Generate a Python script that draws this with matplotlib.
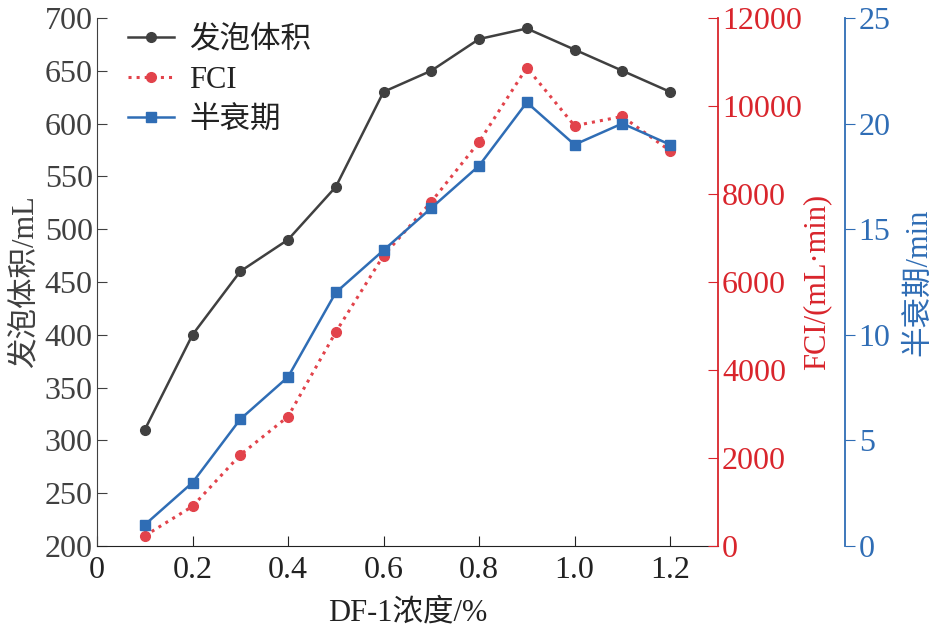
import matplotlib
matplotlib.use('Agg')
import matplotlib.pyplot as plt

plt.rcParams['font.family'] = ['Liberation Serif', 'Noto Sans CJK SC']
plt.rcParams['axes.unicode_minus'] = False

conc = [0.1, 0.2, 0.3, 0.4, 0.5, 0.6, 0.7, 0.8, 0.9, 1.0, 1.1, 1.2]
foam_vol = [310, 400, 460, 490, 540, 630, 650, 680, 690, 670, 650, 630]
fci = [230, 900, 2070, 2940, 4860, 6600, 7820, 9180, 10870, 9550, 9760, 8980]
half_life = [1, 3, 6, 8, 12, 14, 16, 18, 21, 19, 20, 19]
xticks = [0, 0.2, 0.4, 0.6, 0.8, 1.0, 1.2]
xtick_labels = ['0', '0.2', '0.4', '0.6', '0.8', '1.0', '1.2']

gray = '#404040'
red = '#d9252c'
red_pt = '#e2434b'
blue = '#2f6db5'
fs = 23
lfs = 22

fig = plt.figure(figsize=(9.42, 6.4), dpi=100)
ax = fig.add_axes([0.103, 0.147, 0.659, 0.825])
ax2 = ax.twinx()
ax3 = ax.twinx()

l1, = ax.plot(conc, foam_vol, '-o', color=gray, lw=1.8, ms=7, label='发泡体积')
l2, = ax2.plot(conc, fci, ':o', color=red_pt, lw=2.2, ms=7, label='FCI')
l3, = ax3.plot(conc, half_life, '-s', color=blue, lw=1.8, ms=7, label='半衰期')

ax.set_xlim(0, 1.3)
ax.set_ylim(200, 700)
ax2.set_ylim(0, 12000)
ax3.set_ylim(0, 25)
ax.set_xticks(xticks)
ax.set_xticklabels(xtick_labels)
ax.set_yticks(range(200, 701, 50))
ax2.set_yticks(range(0, 12001, 2000))
ax3.set_yticks(range(0, 26, 5))

for a in (ax, ax2, ax3):
    a.spines['top'].set_visible(False)

ax.spines['right'].set_visible(False)
ax.spines['left'].set_color(gray)
ax.spines['bottom'].set_color('#222222')
ax.tick_params(axis='y', direction='in', length=7, colors=gray, labelsize=fs, pad=3)
ax.tick_params(axis='x', direction='in', length=7, colors='#222222', labelsize=fs, pad=7)
ax.set_xlabel('DF-1浓度/%', fontsize=lfs, color='#222222', labelpad=10)
ax.set_ylabel('发泡体积/mL', fontsize=lfs, color=gray, labelpad=4)

ax2.spines['left'].set_visible(False)
ax2.spines['bottom'].set_visible(False)
ax2.spines['right'].set_color(red)
ax2.spines['right'].set_linewidth(1.3)
ax2.tick_params(axis='y', direction='in', length=7, colors=red, labelsize=fs, pad=3)
ax2.set_ylabel('FCI/(mL·min)', fontsize=lfs, color=red, labelpad=0)

ax3.spines['left'].set_visible(False)
ax3.spines['bottom'].set_visible(False)
ax3.spines['right'].set_position(('axes', 1.2045))
ax3.spines['right'].set_color(blue)
ax3.spines['right'].set_linewidth(1.3)
ax3.tick_params(axis='y', direction='out', length=7, colors=blue, labelsize=fs, pad=3)
ax3.set_ylabel('半衰期/min', fontsize=lfs, color=blue, labelpad=10)

leg = ax.legend(handles=[l1, l2, l3], loc='upper left', frameon=False, fontsize=lfs,
                handlelength=1.5, handletextpad=0.5, labelspacing=0.36,
                borderaxespad=0.2, bbox_to_anchor=(0.02, 1.02))
for t in leg.get_texts():
    t.set_color('#222222')

fig.savefig('out.png', dpi=100)
